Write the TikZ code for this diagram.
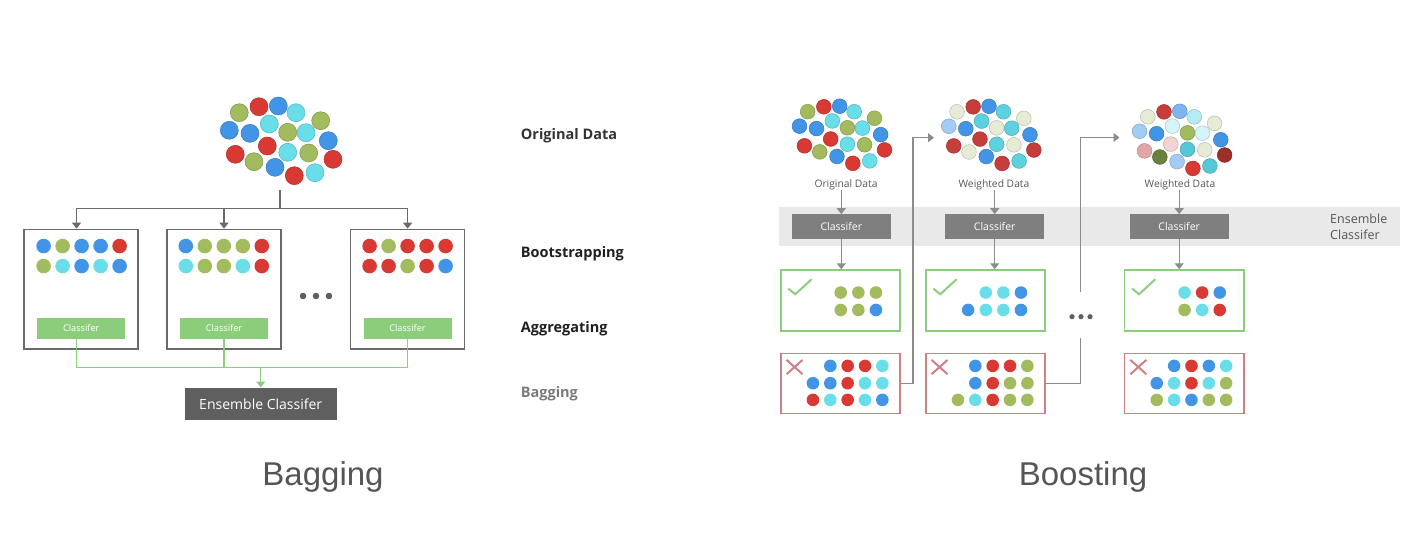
\documentclass[tikz,border=0pt]{standalone}
\usepackage{fontspec}
\setmainfont{Open Sans}
\newfontfamily\titlefont{Liberation Sans}
\usepackage{tikz}
\usetikzlibrary{arrows.meta,positioning}
\definecolor{dblue}{HTML}{4295E6}
\definecolor{dred}{HTML}{D83A33}
\definecolor{dgreen}{HTML}{A1BB5E}
\definecolor{dcyan}{HTML}{69DEE8}
\definecolor{pale}{HTML}{E6EBD6}
\definecolor{wred}{HTML}{C53E3C}
\definecolor{wcyan}{HTML}{5DD2DE}
\definecolor{lblue}{HTML}{A3CBF4}
\definecolor{mblue}{HTML}{7DB4EE}
\definecolor{lcyan}{HTML}{B5EBF3}
\definecolor{vlcyan}{HTML}{D4F4F8}
\definecolor{lpink}{HTML}{E3A6A6}
\definecolor{vpink}{HTML}{F3D4D4}
\definecolor{dkgreen}{HTML}{6A803E}
\definecolor{tcyan}{HTML}{56C7D7}
\definecolor{dkred}{HTML}{9E2F27}
\definecolor{okgreen}{HTML}{8CCD7B}
\definecolor{badred}{HTML}{CF8082}
\definecolor{clsgrey}{HTML}{7F7F7F}
\definecolor{ensgrey}{HTML}{5F5F5F}
\definecolor{linegrey}{HTML}{8C8C8C}
\definecolor{boxgrey}{HTML}{6A6A6A}
\definecolor{bandgrey}{HTML}{E9E9E9}
\definecolor{labgrey}{HTML}{555555}

\def\cloudxs{{-41.7,-22,-2.7,15,39.7,-51.7,-31,-11.7,6.7,25,47.3,-45.7,-13.7,-27,6.7,27.7,52,-6,13.3,34}}
\def\cloudys{{-28.3,-34.3,-35,-28.3,-20.3,-10.7,-7.7,-17,-8.7,-8.3,-0.3,13.3,5,20.7,11.3,12,18.3,26.3,34.7,31.7}}

\newcommand{\cloudat}[3]{%
 \begin{scope}[shift={#1},scale=#2]
 \foreach \col [count=\i from 0] in {#3}{
  \pgfmathsetmacro\cx{\cloudxs[\i]}
  \pgfmathsetmacro\cy{\cloudys[\i]}
  \filldraw[fill=\col,draw=\col!80!black,line width=0.5pt] (\cx,\cy) circle (9);
 }
 \end{scope}}

\newcommand{\dotrow}[6]{%
 \foreach \col [count=\k from 0] in {#6}
  \fill[\col] ([shift={(#2+\k*#4,#3)}]#1.north west) circle (#5);}

\begin{document}
\begin{tikzpicture}[x=1pt,y=-1pt,
 bagbox/.style={draw=boxgrey,line width=1.4pt,minimum width=114pt,minimum height=119.7pt,inner sep=0},
 bagcls/.style={fill=okgreen,text=white,font=\fontsize{9.2}{10}\selectfont,minimum width=88pt,minimum height=21.5pt,inner sep=0},
 ensbox/.style={fill=ensgrey,text=white,font=\fontsize{14}{16}\selectfont,minimum width=152pt,minimum height=32.6pt,inner sep=0},
 bcls/.style={fill=clsgrey,text=white,font=\fontsize{10.5}{12}\selectfont,minimum width=99.3pt,minimum height=24.7pt,inner sep=0},
 okbox/.style={draw=okgreen,line width=1.6pt,minimum width=119.3pt,minimum height=60.7pt,inner sep=0},
 badbox/.style={draw=badred,line width=1.6pt,minimum width=119.3pt,minimum height=60pt,inner sep=0},
 dlabel/.style={text=labgrey,font=\fontsize{10.3}{12}\selectfont,inner sep=0},
 rowlabel/.style={anchor=west,font=\fontsize{14.5}{17}\selectfont\bfseries,inner sep=0},
 title/.style={text=labgrey,font=\titlefont\fontsize{33}{38}\selectfont,inner sep=0},
 gline/.style={draw=boxgrey,line width=1.3pt},
 garrow/.style={gline,-{Triangle[length=6pt,width=9pt]}},
 bline/.style={draw=linegrey,line width=1.3pt},
 barrow/.style={bline,-{Triangle[length=6pt,width=9pt]}},
 okline/.style={draw=okgreen,line width=1.3pt}]
\useasboundingbox (0,0) rectangle (1428,544);

\cloudat{(281,141)}{1}{dgreen,dred,dblue,dcyan,dgreen,dblue,dblue,dcyan,dgreen,dcyan,dblue,dred,dred,dgreen,dcyan,dgreen,dred,dblue,dred,dcyan}
\node[bagbox] (b1) at (81,289.2) {};
\node[bagbox] (b2) at (224,289.2) {};
\node[bagbox] (b3) at (407.6,289.2) {};
\node[bagcls] (c1) at (81.3,328.5) {Classifer};
\node[bagcls] (c2) at (224,328.5) {Classifer};
\node[bagcls] (c3) at (407.5,328.5) {Classifer};
\node[ensbox] (ens) at (260.7,404) {Ensemble Classifer};
\dotrow{b1}{20.3}{17.4}{19}{7.3}{dblue,dgreen,dblue,dblue,dred}
\dotrow{b1}{20.3}{37.4}{19}{7.3}{dgreen,dcyan,dblue,dcyan,dblue}
\dotrow{b2}{19.5}{17.4}{19}{7.3}{dblue,dgreen,dgreen,dgreen,dred}
\dotrow{b2}{19.5}{37.4}{19}{7.3}{dcyan,dgreen,dgreen,dcyan,dred}
\dotrow{b3}{19.7}{17.4}{19}{7.3}{dred,dgreen,dred,dred,dred}
\dotrow{b3}{19.7}{37.4}{19}{7.3}{dred,dred,dgreen,dred,dblue}

\coordinate (src) at (280,190);
\coordinate (split) at (280,208.3);
\draw[gline] (src) -- (split);
\draw[garrow] (split) -| ([xshift=-4.5pt]b1.north);
\draw[garrow] (split) -| (b2.north);
\draw[garrow] (split) -| (b3.north);
\coordinate (join) at (260.7,367.7);
\draw[okline] ([xshift=-4.5pt]c1.south) |- (join);
\draw[okline] (c3.south) |- (join);
\draw[okline] (c2.south) -- (c2.south |- join);
\draw[okline,-{Triangle[length=6pt,width=9pt]}] (join) -- (ens.north);
\foreach \xx in {303,316,329} \fill[ensgrey] (\xx,296) circle (3.3);
\node[title] (tbag) at (323,477) {Bagging};

\node[rowlabel,text=black!80] (lorig) at (520.7,136) {Original Data};
\node[rowlabel,text=black!88] (lboot) at (520.7,253.3) {Bootstrapping};
\node[rowlabel,text=black!88] (lagg) at (520.7,328.3) {Aggregating};
\node[rowlabel,text=black!52] (lbag) at (520.7,393.3) {Bagging};

\node[fill=bandgrey,minimum width=620.7pt,minimum height=38.7pt,inner sep=0] (band) at (1089.7,226.7) {};
\node[anchor=west,align=left,text=labgrey,font=\fontsize{12.5}{16}\selectfont,inner sep=0] (enslab) at (1330,227) {Ensemble\\Classifer};
\cloudat{(841.9,134.9)}{0.82}{dgreen,dred,dblue,dcyan,dgreen,dblue,dblue,dcyan,dgreen,dcyan,dblue,dred,dred,dgreen,dcyan,dgreen,dred,dblue,dred,dcyan}
\cloudat{(991.2,135)}{0.82}{pale,wred,dblue,wcyan,pale,lblue,dblue,wcyan,pale,wcyan,dblue,wred,wred,pale,wcyan,pale,wred,dblue,wred,wcyan}
\cloudat{(1182,140)}{0.82}{pale,wred,mblue,lcyan,pale,lblue,dblue,vlcyan,dgreen,vlcyan,dblue,lpink,vpink,dkgreen,tcyan,pale,dkred,lblue,dred,tcyan}
\node[dlabel] (l1) at (846,185) {Original Data};
\node[dlabel] (l2) at (994,185) {Weighted Data};
\node[dlabel] (l3) at (1180,185) {Weighted Data};
\node[bcls] (k1) at (841.3,226.7) {Classifer};
\node[bcls] (k2) at (994.7,226.7) {Classifer};
\node[bcls] (k3) at (1179.2,226.7) {Classifer};
\node[okbox] (g1) at (840.4,300.4) {};
\node[okbox] (g2) at (985.4,300.4) {};
\node[okbox] (g3) at (1184.2,300.4) {};
\node[badbox] (r1) at (840.4,383.3) {};
\node[badbox] (r2) at (985.4,383.3) {};
\node[badbox] (r3) at (1184.2,383.3) {};
\foreach \n in {1,2,3}{
 \draw[barrow] (k\n.north |- l\n.south) -- (k\n.north);
 \draw[barrow] (k\n.south) -- (k\n.south |- g\n.north);
 \draw[okgreen,line width=2pt] ([shift={(8.3,19.3)}]g\n.north west) -- ([shift={(15.3,25)}]g\n.north west) -- ([shift={(31.6,10)}]g\n.north west);
 \draw[badred,line width=2pt] ([shift={(6.6,7.4)}]r\n.north west) -- ([shift={(22.6,21.7)}]r\n.north west)
  ([shift={(6.6,21.7)}]r\n.north west) -- ([shift={(22.6,7.4)}]r\n.north west);
}
\dotrow{g1}{60.8}{23.3}{17.6}{6.3}{dgreen,dgreen,dgreen}
\dotrow{g1}{60.8}{40.7}{17.6}{6.3}{dgreen,dgreen,dblue}
\dotrow{g2}{60.8}{23.3}{17.6}{6.3}{dcyan,dcyan,dblue}
\dotrow{g2}{43.2}{40.7}{17.6}{6.3}{dblue,dcyan,dcyan,dblue}
\dotrow{g3}{60.8}{23.3}{17.6}{6.3}{dcyan,dred,dblue}
\dotrow{g3}{60.8}{40.7}{17.6}{6.3}{dgreen,dcyan,dred}
\dotrow{r1}{50.4}{13.4}{17.35}{6.3}{dblue,dred,dred,dcyan}
\dotrow{r1}{33}{30.7}{17.35}{6.3}{dblue,dblue,dred,dcyan,dcyan}
\dotrow{r1}{33}{47.4}{17.35}{6.3}{dred,dcyan,dred,dcyan,dblue}
\dotrow{r2}{50.4}{13.4}{17.35}{6.3}{dblue,dred,dred,dgreen}
\dotrow{r2}{50.4}{30.7}{17.35}{6.3}{dblue,dred,dgreen,dgreen}
\dotrow{r2}{33}{47.4}{17.35}{6.3}{dgreen,dcyan,dred,dgreen,dgreen}
\dotrow{r3}{50.4}{13.4}{17.35}{6.3}{dblue,dred,dblue,dcyan}
\dotrow{r3}{33}{30.7}{17.35}{6.3}{dblue,dcyan,dred,dcyan,dgreen}
\dotrow{r3}{33}{47.4}{17.35}{6.3}{dgreen,dcyan,dblue,dgreen,dgreen}

\coordinate (w2) at (934,137.7);
\coordinate (w3) at (1119.5,137.5);
\coordinate (d1) at (1080.7,338.3);
\coordinate (d2) at (1080.7,292.3);
\draw[barrow] (r1.east) -| ([xshift=-21pt]w2) -- (w2);
\draw[bline] (r2.east) -| (d1);
\draw[barrow] (d2) |- (w3);
\foreach \xx in {1072,1081,1090} \fill[ensgrey] (\xx,316.7) circle (2.6);
\node[title] (tboost) at (1083,477) {Boosting};
\end{tikzpicture}
\end{document}
